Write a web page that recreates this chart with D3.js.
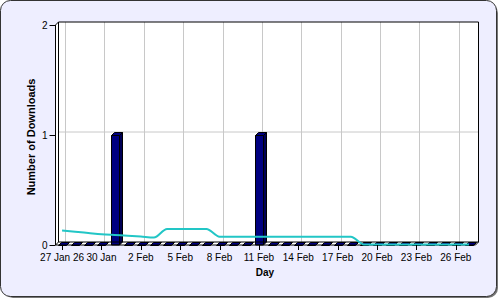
<!DOCTYPE html>
<html>
<head>
<meta charset="utf-8">
<script src="https://cdn.jsdelivr.net/npm/d3@7"></script>
<style>
  html, body { margin: 0; padding: 0; background: #fff; }
  svg { display: block; font-family: "Liberation Sans", Arial, sans-serif; }
</style>
</head>
<body>
<div id="chart"></div>
<script>
// one category per day, 27 Jan .. 27 Feb
const days = ["27 Jan","28 Jan","29 Jan","30 Jan","31 Jan","1 Feb","2 Feb","3 Feb",
  "4 Feb","5 Feb","6 Feb","7 Feb","8 Feb","9 Feb","10 Feb","11 Feb","12 Feb","13 Feb",
  "14 Feb","15 Feb","16 Feb","17 Feb","18 Feb","19 Feb","20 Feb","21 Feb","22 Feb",
  "23 Feb","24 Feb","25 Feb","26 Feb","27 Feb"];

const downloads = [0,0,0,0,1,0,0,0, 0,0,0,0,0,0,0,1,0,0, 0,0,0,0,0,0,0,0,0, 0,0,0,0,0];

// trend line
const trend = [0.127,0.117,0.105,0.093,0.086,0.080,0.072,0.063,
  0.142,0.142,0.142,0.142,0.071,0.071,0.071,0.071,0.071,0.071,
  0.071,0.071,0.071,0.071,0.071,0,0,0,0,
  0,0,0,0,0];

const tickDays   = ["27 Jan","30 Jan","2 Feb","5 Feb","8 Feb","11 Feb","14 Feb","17 Feb","20 Feb","23 Feb","26 Feb"];
const tickLabels = ["27 Jan 26","30 Jan","2 Feb","5 Feb","8 Feb","11 Feb","14 Feb","17 Feb","20 Feb","23 Feb","26 Feb"];
const yTicks = [0, 1, 2];

(function () {
  const W = 500, H = 300;
  const depth = 3;
  const pL = 55.5, pR = 475.5, pT = 25, pB = 245;

  const svg = d3.select("#chart").append("svg").attr("width", W).attr("height", H);

  // frame + shadow
  svg.append("rect").attr("x", 3).attr("y", 3).attr("width", 495).attr("height", 295)
    .attr("rx", 10).attr("fill", "#777");
  svg.append("rect").attr("x", 0.5).attr("y", 0.5).attr("width", 496).attr("height", 296)
    .attr("rx", 10).attr("fill", "#eeeeff").attr("stroke", "#333");

  const x = d3.scaleBand().domain(days).range([pL, pR]).paddingInner(0.39).paddingOuter(0.195);
  const y = d3.scaleLinear().domain([0, 2]).range([pB, pT]);
  const cx = d => x(d) + x.bandwidth() / 2;

  // plot body (front + 3d back wall)
  svg.append("path")
    .attr("d", `M${pL},${pB}V${pT}L${pL + depth},${pT - depth}H${pR + depth}V${pB - depth}L${pR},${pB}Z`)
    .attr("fill", "#fff");

  // gridlines on back wall
  const grid = svg.append("g").attr("stroke", "#c8c8c8").attr("stroke-width", 1);
  grid.selectAll("line.v").data(tickDays).join("line")
    .attr("x1", d => Math.round(cx(d) + depth) + 0.5).attr("x2", d => Math.round(cx(d) + depth) + 0.5)
    .attr("y1", pT - depth).attr("y2", pB - depth);
  grid.selectAll("line.h").data(yTicks.filter(v => v > 0 && v < 2)).join("line")
    .attr("x1", pL + depth).attr("x2", pR + depth)
    .attr("y1", d => y(d) - depth).attr("y2", d => y(d) - depth);

  // wall outlines
  const frame = svg.append("g").attr("fill", "none").attr("stroke", "#000");
  frame.append("path").attr("d", `M${pL + depth},${pB - depth}V${pT - depth}H${pR + depth}V${pB - depth}H${pL + depth}`);
  frame.append("path").attr("d", `M${pL},${pB}V${pT}L${pL + depth},${pT - depth}`);
  frame.append("path").attr("d", `M${pL},${pB}L${pL + depth},${pB - depth}`);

  // bars (3d)
  const bw = x.bandwidth();
  const bars = svg.append("g").attr("stroke", "#000").attr("stroke-width", 1).attr("stroke-linejoin", "round");
  days.forEach((d, i) => {
    const x0 = Math.round(x(d)) + 0.5, x1 = x0 + Math.round(bw);
    const yv = Math.round(y(downloads[i])) + 0.5;
    const b = bars.append("g");
    if (downloads[i] > 0) {
      b.append("path").attr("fill", "#000055")
        .attr("d", `M${x1},${yv}L${x1 + depth},${yv - depth}V${pB - depth}L${x1},${pB}Z`);
      b.append("rect").attr("fill", "#000080")
        .attr("x", x0).attr("y", yv).attr("width", x1 - x0).attr("height", pB - yv);
    }
    b.append("path").attr("fill", "#000080")
      .attr("d", `M${x0},${yv}L${x0 + depth},${yv - depth}H${x1 + depth}L${x1},${yv}Z`);
  });

  // front edges
  frame.raise();
  svg.append("path").attr("fill", "none").attr("stroke", "#000")
    .attr("d", `M${pL},${pB}H${pR}L${pR + depth},${pB - depth}`);

  // trend line
  svg.append("path")
    .datum(trend)
    .attr("fill", "none").attr("stroke", "#22c6c6").attr("stroke-width", 2)
    .attr("d", d3.line().x((v, i) => cx(days[i])).y(v => y(v) - 0.5).curve(d3.curveMonotoneX));

  // x axis ticks + labels
  const xt = svg.append("g");
  xt.selectAll("line").data(tickDays).join("line")
    .attr("x1", d => Math.round(cx(d)) + 0.5).attr("x2", d => Math.round(cx(d)) + 0.5)
    .attr("y1", pB).attr("y2", pB + 5).attr("stroke", "#000");
  xt.selectAll("text").data(tickDays).join("text")
    .attr("x", d => cx(d)).attr("y", 261)
    .attr("text-anchor", "middle").attr("font-size", 10).attr("fill", "#000")
    .text((d, i) => tickLabels[i]);

  // y axis ticks + labels
  const yt = svg.append("g");
  yt.selectAll("line").data(yTicks).join("line")
    .attr("x1", pL - 6).attr("x2", pL)
    .attr("y1", d => Math.round(y(d)) + 0.5).attr("y2", d => Math.round(y(d)) + 0.5)
    .attr("stroke", "#000");
  yt.selectAll("text").data(yTicks).join("text")
    .attr("x", pL - 8).attr("y", d => y(d) + 4)
    .attr("text-anchor", "end").attr("font-size", 10).attr("fill", "#000")
    .text(d => d);

  // axis titles
  svg.append("text").attr("x", 265).attr("y", 276)
    .attr("text-anchor", "middle").attr("font-size", 10).attr("font-weight", "bold")
    .text("Day");
  svg.append("text").attr("transform", "translate(35,137) rotate(-90)")
    .attr("text-anchor", "middle").attr("font-size", 11).attr("font-weight", "bold")
    .text("Number of Downloads");
})();
</script>
</body>
</html>
